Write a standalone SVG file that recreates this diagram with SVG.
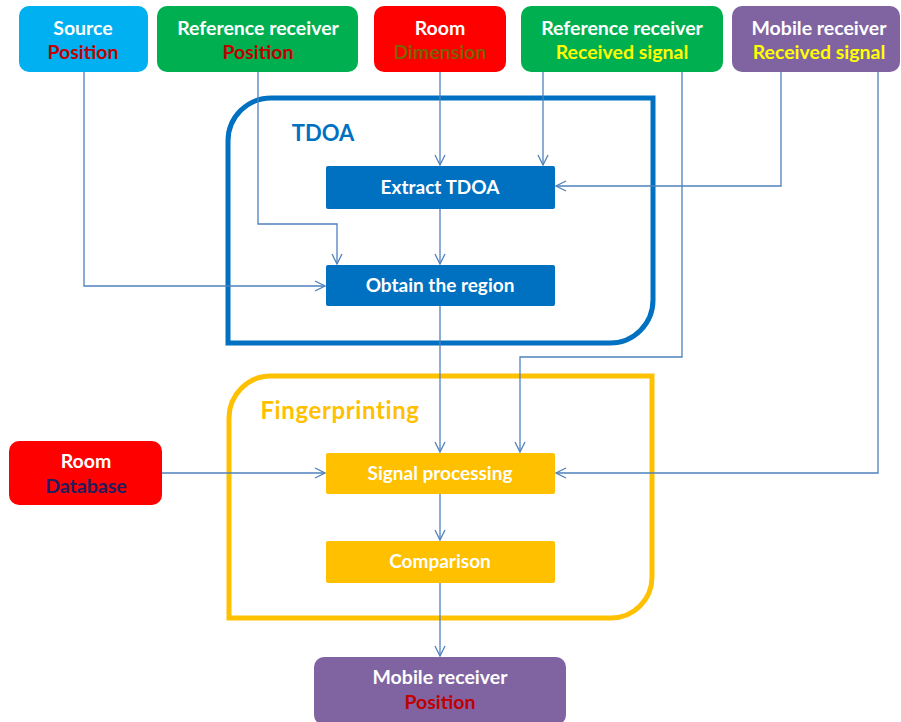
<svg xmlns="http://www.w3.org/2000/svg" width="901" height="722" viewBox="0 0 901 722">
<style>
.t{font-family:Lato,"Open Sans","Liberation Sans",sans-serif;font-weight:bold;text-anchor:middle}
.w{fill:#ffffff}
.n{font-size:19.5px}
.b{font-size:19px}
.c{fill:none;stroke:#4F81BD;stroke-width:1.3}
</style>
<defs>
<marker id="a" viewBox="0 0 12 12" refX="11" refY="6" markerWidth="12" markerHeight="12" markerUnits="userSpaceOnUse" orient="auto">
<path d="M1,1 L11,6 L1,11" fill="none" stroke="#4F81BD" stroke-width="1.3"/>
</marker>
</defs>
<rect width="901" height="722" fill="#ffffff"/>
<g id="tdoa-group">
<path d="M228,343 L228,141 A43,43 0 0 1 271,98 L653,98 L653,300 A43,43 0 0 1 610,343 Z" fill="none" stroke="#0070C0" stroke-width="5"/>
<text class="t" x="323" y="141" font-size="22" fill="#0070C0">TDOA</text>
</g>
<g id="fp-group">
<path d="M229,618 L229,418 A42,42 0 0 1 271,376 L652,376 L652,577 A41,41 0 0 1 611,618 Z" fill="none" stroke="#FFC000" stroke-width="5"/>
<text class="t" x="340" y="419" font-size="24" letter-spacing="0.6" fill="#FFC000">Fingerprinting</text>
</g>
<g id="connectors">
<path class="c" d="M84,72 L84,286 L325,286" marker-end="url(#a)"/>
<path class="c" d="M258,72 L258,224 L337,224 L337,264" marker-end="url(#a)"/>
<path class="c" d="M440,72 L440,165" marker-end="url(#a)"/>
<path class="c" d="M543,72 L543,165" marker-end="url(#a)"/>
<path class="c" d="M781,72 L781,186 L556,186" marker-end="url(#a)"/>
<path class="c" d="M440,209 L440,264" marker-end="url(#a)"/>
<path class="c" d="M440,306 L440,452" marker-end="url(#a)"/>
<path class="c" d="M682,72 L682,357 L520,357 L520,452" marker-end="url(#a)"/>
<path class="c" d="M878,72 L878,473 L556,473" marker-end="url(#a)"/>
<path class="c" d="M162,473 L325,473" marker-end="url(#a)"/>
<path class="c" d="M440,494 L440,540" marker-end="url(#a)"/>
<path class="c" d="M440,583 L440,656" marker-end="url(#a)"/>
</g>
<g id="source">
<rect x="19" y="6" width="129" height="66" rx="10" fill="#00B0F0"/>
<text class="t w n" x="83" y="35">Source</text>
<text class="t n" x="83" y="59" fill="#C00000">Position</text>
</g>
<g id="refpos">
<rect x="157" y="6" width="201" height="66" rx="10" fill="#00B050"/>
<text class="t w n" x="258" y="35">Reference receiver</text>
<text class="t n" x="258" y="59" fill="#C00000">Position</text>
</g>
<g id="room">
<rect x="374" y="6" width="132" height="66" rx="10" fill="#FF0000"/>
<text class="t w n" x="440" y="35">Room</text>
<text class="t n" x="440" y="59" fill="#7F6000">Dimension</text>
</g>
<g id="refsig">
<rect x="521" y="6" width="202" height="66" rx="10" fill="#00B050"/>
<text class="t w n" x="622" y="35">Reference receiver</text>
<text class="t n" x="622" y="59" fill="#FFFF00">Received signal</text>
</g>
<g id="mobsig">
<rect x="732" y="6" width="168" height="66" rx="10" fill="#8064A2"/>
<text class="t w n" x="819" y="35">Mobile receiver</text>
<text class="t n" x="819" y="59" fill="#FFFF00">Received signal</text>
</g>
<g id="extract">
<rect x="326" y="166" width="229" height="43" rx="2" fill="#0070C0"/>
<text class="t w b" x="440" y="194">Extract TDOA</text>
</g>
<g id="obtain">
<rect x="326" y="265" width="229" height="41" rx="2" fill="#0070C0"/>
<text class="t w b" x="440" y="292">Obtain the region</text>
</g>
<g id="signal">
<rect x="326" y="453" width="229" height="41" rx="2" fill="#FFC000"/>
<text class="t w b" x="440" y="480">Signal processing</text>
</g>
<g id="comparison">
<rect x="326" y="541" width="229" height="42" rx="2" fill="#FFC000"/>
<text class="t w b" x="440" y="568">Comparison</text>
</g>
<g id="roomdb">
<rect x="9" y="441" width="153" height="64" rx="10" fill="#FF0000"/>
<text class="t w n" x="86" y="468">Room</text>
<text class="t n" x="86" y="493" fill="#1F1F5F">Database</text>
</g>
<g id="mobpos">
<rect x="314" y="657" width="252" height="68" rx="10" fill="#8064A2"/>
<text class="t w n" x="440" y="684">Mobile receiver</text>
<text class="t n" x="440" y="709" fill="#C00000">Position</text>
</g>
</svg>
